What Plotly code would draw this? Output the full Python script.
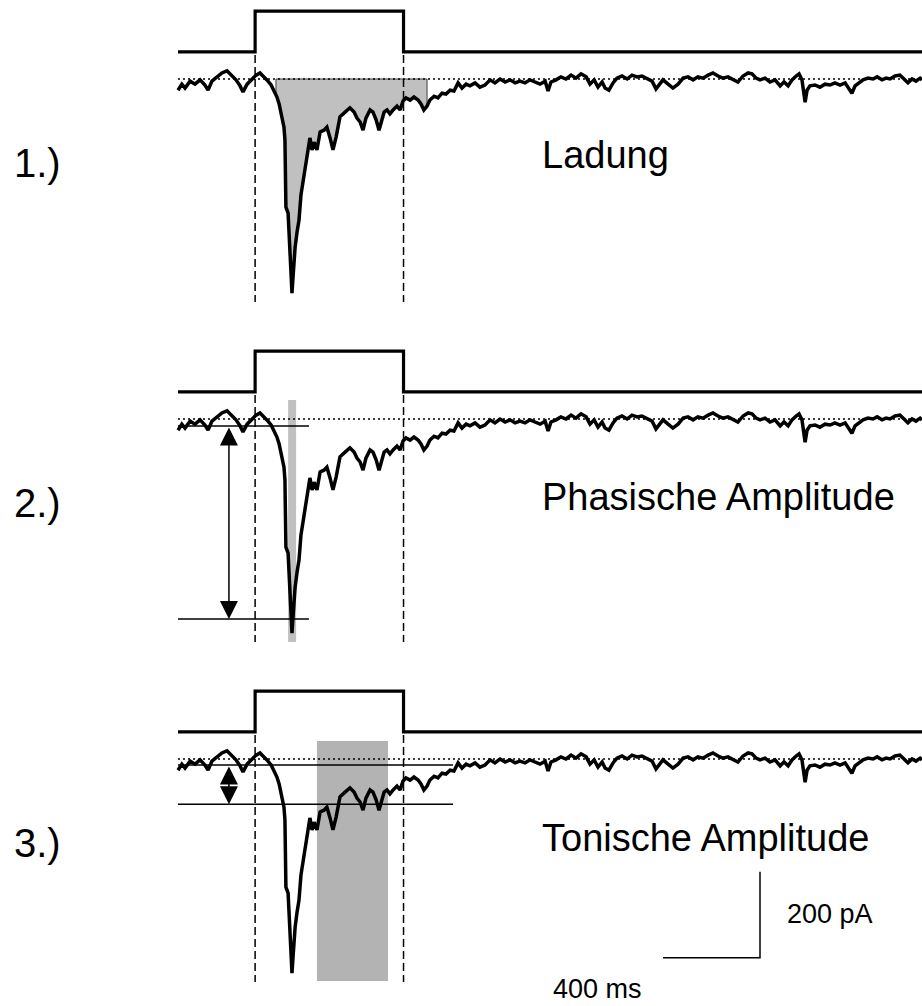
import numpy as np
import plotly.graph_objects as go

# ---------------- data ----------------
time_ms = [0, 16, 29, 50, 70, 91, 111, 124, 140, 165, 181, 202, 223, 239, 256, 268, 285, 305,
           322, 338, 355, 371, 384, 396, 408, 417, 425, 433, 437, 441, 445, 454, 462, 466, 470,
           474, 483, 491, 499, 507, 516, 524, 532, 540, 544, 553, 561, 573, 586, 602, 614, 627,
           639, 652, 668, 689, 709, 726, 738, 751, 763, 775, 792, 804, 817, 829, 837, 850, 862,
           874, 887, 903, 916, 928, 940, 957, 973, 990, 1002, 1014, 1027, 1039, 1056, 1072, 1089,
           1105, 1122, 1138, 1155, 1171, 1188, 1204, 1225, 1245, 1266, 1287, 1307, 1328, 1349,
           1369, 1390, 1410, 1431, 1452, 1472, 1493, 1514, 1526, 1538, 1559, 1579, 1600, 1621,
           1641, 1662, 1683, 1699, 1716, 1732, 1749, 1761, 1777, 1794, 1810, 1831, 1852, 1872,
           1893, 1913, 1934, 1955, 1971, 1984, 2000, 2021, 2041, 2062, 2083, 2103, 2124, 2144,
           2165, 2186, 2206, 2227, 2247, 2268, 2289, 2309, 2330, 2351, 2367, 2384, 2400, 2421,
           2441, 2462, 2483, 2499, 2516, 2532, 2549, 2561, 2573, 2586, 2594, 2606, 2627, 2647,
           2668, 2689, 2709, 2730, 2751, 2767, 2779, 2792, 2808, 2825, 2845, 2866, 2883, 2903,
           2920, 2936, 2957, 2977, 2994, 3010, 3027, 3043, 3060, 3068]
current_pA = [-26, -12, -21, -5, -12, -2, -14, -26, -5, 7, 14, 19, 7, -2, -16, -30, -12, -2,
              9, 14, 5, -5, -14, -26, -42, -58, -77, -95, -112, -142, -298, -312, -405, -467, -498,
              -463, -391, -356, -328, -270, -240, -212, -188, -154, -137, -165, -147, -165, -123, -119, -112, -137,
              -165, -135, -88, -77, -67, -77, -91, -100, -119, -91, -72, -77, -95, -119, -100, -77, -72,
              -81, -72, -63, -72, -51, -44, -49, -42, -49, -58, -72, -63, -49, -40, -44, -33,
              -35, -26, -28, -9, -21, -12, -16, -9, -19, -14, -2, -9, 0, -7,
              -2, -9, -5, -9, -2, -7, -12, -5, -28, -7, -2, 5, 0, 9,
              2, 12, 5, -12, -2, -19, -7, -21, -26, -9, 2, 7, 0, 9,
              5, 7, 0, -5, -23, -14, -2, -12, -21, -12, 2, 5, -2, 5,
              2, 9, 14, 7, 2, 5, -2, -7, 7, 14, 12, 2, -2, 2,
              -7, -2, -16, -7, -16, -2, 7, 12, -2, -54, -26, -16, -14, -19,
              -12, -14, -9, -14, -9, -21, -33, -16, -9, -2, 2, 0, 5, -2,
              2, 0, 7, 9, 0, -9, 0, -5, 2, -2]

stim_on_ms = 318
stim_off_ms = 930

charge_window_ms = [404, 1027]
phasic_window_ms = [454, 487]
tonic_window_ms = [573, 866]
phasic_baseline_pA = -16
phasic_peak_pA = -465
tonic_baseline_pA = -14
tonic_level_pA = -105

scale_time_ms = 400
scale_current_pA = 200

panel_numbers = ["1.)", "2.)", "3.)"]
panel_titles = ["Ladung", "Phasische Amplitude", "Tonische Amplitude"]

# ---------------- geometry / style ----------------
W, H = 922, 1006
MS_PER_PX = 400 / 97
PA_PER_PX = 200 / 86
TRACE_X0_PX = 178
PANEL_TOP_PX = [0, 340, 680]
PANEL_H_PX = 326
BASELINE_PX = 79            # baseline position inside each panel
STIM_LEVELS = [63, 158]     # stimulus marker levels (off, on), in pA units of panel

t = np.array(time_ms, float)
cur = np.array(current_pA, float)

fig = go.Figure()

x_range = [-TRACE_X0_PX * MS_PER_PX, (W - TRACE_X0_PX) * MS_PER_PX]
y_range = [-(PANEL_H_PX - BASELINE_PX) * PA_PER_PX, BASELINE_PX * PA_PER_PX]

layout_axes = {}
for k in range(3):
    sfx = "" if k == 0 else str(k + 1)
    top = 1 - PANEL_TOP_PX[k] / H
    bot = 1 - (PANEL_TOP_PX[k] + PANEL_H_PX) / H
    layout_axes["xaxis" + sfx] = dict(domain=[0, 1], range=x_range, visible=False,
                                      anchor="y" + sfx, fixedrange=True)
    layout_axes["yaxis" + sfx] = dict(domain=[max(bot, 0), top], range=y_range, visible=False,
                                      anchor="x" + sfx, fixedrange=True)

t_end = x_range[1]

for k in range(3):
    sfx = "" if k == 0 else str(k + 1)
    xa, ya = "x" + sfx, "y" + sfx

    # grey overlays drawn first
    if k == 0:
        q0, q1 = charge_window_ms
        m = (t > q0) & (t < q1)
        px_ = [q0, q0] + list(t[m]) + [q1, q1, q0]
        py_ = [0, np.interp(q0, t, cur)] + list(cur[m]) + [np.interp(q1, t, cur), 0, 0]
        fig.add_trace(go.Scatter(x=px_, y=py_, mode="lines", fill="toself",
                                 fillcolor="#c0c0c0", line=dict(color="#404040", width=1),
                                 xaxis=xa, yaxis=ya, hoverinfo="skip"))
    if k == 1:
        fig.add_shape(type="rect", xref=xa, yref=ya,
                      x0=phasic_window_ms[0], x1=phasic_window_ms[1],
                      y0=-(642 - 340 - BASELINE_PX) * PA_PER_PX, y1=(BASELINE_PX - 60) * PA_PER_PX,
                      fillcolor="#c0c0c0", line=dict(width=0), layer="below")
    if k == 2:
        fig.add_shape(type="rect", xref=xa, yref=ya,
                      x0=tonic_window_ms[0], x1=tonic_window_ms[1],
                      y0=-(981 - 680 - BASELINE_PX) * PA_PER_PX, y1=(BASELINE_PX - 61) * PA_PER_PX,
                      fillcolor="#b3b3b3", line=dict(width=0), layer="below")

    # dotted baseline
    fig.add_trace(go.Scatter(x=[0, t_end], y=[0, 0], mode="lines",
                             line=dict(color="black", width=1.5, dash="2px,3px"),
                             xaxis=xa, yaxis=ya, hoverinfo="skip"))

    # dashed stimulus markers
    for ts in (stim_on_ms, stim_off_ms):
        fig.add_trace(go.Scatter(x=[ts, ts], y=[(BASELINE_PX - 55) * PA_PER_PX,
                                                -(302 - BASELINE_PX) * PA_PER_PX],
                                 mode="lines", line=dict(color="black", width=1.5, dash="8px,4px"),
                                 xaxis=xa, yaxis=ya, hoverinfo="skip"))

    # stimulus step
    lo, hi = STIM_LEVELS
    fig.add_trace(go.Scatter(x=[0, stim_on_ms, stim_on_ms, stim_off_ms, stim_off_ms, t_end],
                             y=[lo, lo, hi, hi, lo, lo], mode="lines",
                             line=dict(color="black", width=3.2), xaxis=xa, yaxis=ya,
                             hoverinfo="skip"))

    # current trace
    fig.add_trace(go.Scatter(x=t, y=cur, mode="lines",
                             line=dict(color="black", width=3.5),
                             xaxis=xa, yaxis=ya, hoverinfo="skip"))

    # measurement lines
    if k == 1:
        x_end = 540
        for lvl in (phasic_baseline_pA, phasic_peak_pA):
            fig.add_trace(go.Scatter(x=[0, x_end], y=[lvl, lvl], mode="lines",
                                     line=dict(color="black", width=1.5),
                                     xaxis=xa, yaxis=ya, hoverinfo="skip"))
        fig.add_annotation(x=210, y=phasic_peak_pA, ax=210, ay=phasic_baseline_pA,
                           xref=xa, yref=ya, axref=xa, ayref=ya, text="",
                           showarrow=True, arrowhead=2, arrowside="end+start",
                           arrowsize=2.4, arrowwidth=1.5, arrowcolor="black")
    if k == 2:
        x_end = 1134
        for lvl in (tonic_baseline_pA, tonic_level_pA):
            fig.add_trace(go.Scatter(x=[0, x_end], y=[lvl, lvl], mode="lines",
                                     line=dict(color="black", width=1.5),
                                     xaxis=xa, yaxis=ya, hoverinfo="skip"))
        fig.add_annotation(x=210, y=tonic_level_pA, ax=210, ay=tonic_baseline_pA,
                           xref=xa, yref=ya, axref=xa, ayref=ya, text="",
                           showarrow=True, arrowhead=2, arrowside="end+start",
                           arrowsize=2.4, arrowwidth=1.5, arrowcolor="black")

# scale bar (panel 3)
sb_x, sb_y = 2400, -462
fig.add_trace(go.Scatter(x=[sb_x - scale_time_ms, sb_x, sb_x],
                         y=[sb_y, sb_y, sb_y + scale_current_pA], mode="lines",
                         line=dict(color="black", width=1.5), xaxis="x3", yaxis="y3",
                         hoverinfo="skip"))

FONT = "Liberation Sans, Arial, sans-serif"
num_y = [163, 503, 843]
title_y = [155, 497, 838]
for k in range(3):
    fig.add_annotation(x=12 / W, y=1 - num_y[k] / H, xref="paper", yref="paper",
                       text=panel_numbers[k], showarrow=False, xanchor="left", yanchor="middle",
                       font=dict(family=FONT, size=40, color="black"))
    fig.add_annotation(x=540 / W, y=1 - title_y[k] / H, xref="paper", yref="paper",
                       text=panel_titles[k], showarrow=False, xanchor="left", yanchor="middle",
                       font=dict(family=FONT, size=38, color="black"))

fig.add_annotation(x=785 / W, y=1 - 914 / H, xref="paper", yref="paper",
                   text=f"{scale_current_pA} pA", showarrow=False, xanchor="left",
                   yanchor="middle", font=dict(family=FONT, size=27, color="black"))
fig.add_annotation(x=597 / W, y=1 - 989 / H, xref="paper", yref="paper",
                   text=f"{scale_time_ms} ms", showarrow=False, xanchor="center",
                   yanchor="middle", font=dict(family=FONT, size=27, color="black"))

fig.update_layout(width=W, height=H, margin=dict(l=0, r=0, t=0, b=0),
                  paper_bgcolor="white", plot_bgcolor="rgba(0,0,0,0)",
                  showlegend=False, **layout_axes)

fig.write_html("out.html", config={"displayModeBar": False})
